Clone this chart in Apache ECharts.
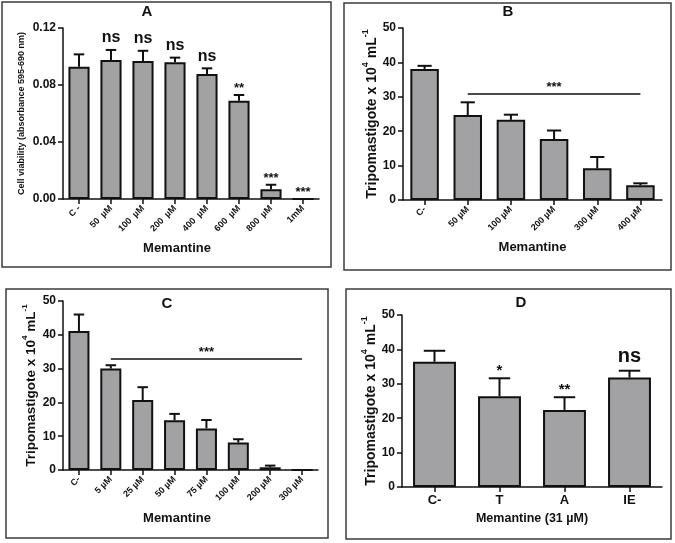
<!DOCTYPE html>
<html>
<head>
<meta charset="utf-8">
<script src="https://cdn.jsdelivr.net/npm/echarts@6/dist/echarts.min.js"></script>
<style>html,body{margin:0;padding:0;background:#fff;}#c{width:675px;height:543px;}</style>
</head>
<body>
<div id="c"></div>
<script>
// ---- Data ----
const catA = ['C -', '50  µM', '100  µM', '200  µM', '400  µM', '600  µM', '800  µM', '1mM'];
const valA = [0.0928, 0.0975, 0.0968, 0.0959, 0.0877, 0.069, 0.0068, 0];
const errA = [0.1015, 0.1046, 0.104, 0.0992, 0.0917, 0.073, 0.010, 0];
const sigA = ['', 'ns', 'ns', 'ns', 'ns', '**', '***', '***'];
const ticksA = [0, 0.04, 0.08, 0.12];

const catB = ['C-', '50 µM', '100 µM', '200 µM', '300 µM', '400 µM'];
const valB = [38.1, 24.7, 23.3, 17.7, 9.2, 4.3];
const errB = [39.0, 28.4, 24.8, 20.2, 12.5, 4.85];
const sigLineB = { from: '50 µM', to: '400 µM', y: 30.9, text: '***' };

const catC = ['C-', '5 µM', '25 µM', '50 µM', '75 µM', '100 µM', '200 µM', '300 µM'];
const valC = [41.1, 30.0, 20.7, 14.7, 12.3, 8.1, 0.8, 0];
const errC = [46.0, 31.0, 24.5, 16.6, 14.8, 9.1, 1.3, 0];
const sigLineC = { from: '5 µM', to: '300 µM', y: 33.0, text: '***' };

const catD = ['C-', 'T', 'A', 'IE'];
const valD = [36.4, 26.4, 22.4, 31.8];
const errD = [39.6, 31.6, 26.1, 33.8];
const sigD = ['', '*', '**', 'ns'];

const ticksTrip = [0, 10, 20, 30, 40, 50];

// ---- Styles ----
const FF = '"Liberation Sans", Arial, sans-serif';
const BAR_FILL = '#a2a2a5';
const INK = '#111';

const chart = echarts.init(document.getElementById('c'), null, { renderer: 'canvas' });

function errSeries(idx, vals, errs, sigs, sigSizes) {
  return {
    type: 'custom',
    xAxisIndex: idx, yAxisIndex: idx,
    z: 5,
    data: vals.map((v, i) => [i, v, errs[i]]),
    renderItem: function (params, api) {
      const i = params.dataIndex;
      const p0 = api.coord([api.value(0), api.value(1)]);
      const p1 = api.coord([api.value(0), api.value(2)]);
      const bw = api.size([1, 0])[0] * 0.66;
      const cap = bw * 0.25;
      const children = [];
      if (api.value(2) > api.value(1)) {
        children.push({ type: 'line', shape: { x1: p0[0], y1: p0[1], x2: p1[0], y2: p1[1] }, style: { stroke: INK, lineWidth: 2 } });
        children.push({ type: 'line', shape: { x1: p1[0] - cap, y1: p1[1], x2: p1[0] + cap, y2: p1[1] }, style: { stroke: INK, lineWidth: 2 } });
      }
      const s = sigs ? sigs[i] : '';
      if (s) {
        const fs = sigSizes[s] || 12;
        const off = s.indexOf('*') >= 0 ? -fs * 0.15 : 2;
        children.push({ type: 'text', x: p1[0], y: p1[1] - 2 - off,
          style: { text: s, fill: INK, font: 'bold ' + fs + 'px ' + FF, textAlign: 'center', textVerticalAlign: 'bottom' } });
      }
      return { type: 'group', children: children };
    }
  };
}

function barSeries(idx, vals, markLineCfg) {
  const s = {
    type: 'bar', xAxisIndex: idx, yAxisIndex: idx,
    data: vals, barWidth: '66%',
    itemStyle: { color: BAR_FILL, borderColor: INK, borderWidth: 2 },
    silent: true, animation: false
  };
  if (markLineCfg) {
    s.markLine = {
      silent: true, symbol: ['none', 'none'], animation: false,
      lineStyle: { color: INK, width: 1.5, type: 'solid' },
      label: { show: true, position: 'middle', formatter: markLineCfg.text, color: INK, fontFamily: FF, fontWeight: 'bold', fontSize: 13, distance: 0 },
      data: [[{ coord: [markLineCfg.from, markLineCfg.y] }, { coord: [markLineCfg.to, markLineCfg.y] }]]
    };
  }
  return s;
}

function xAx(idx, cats, name, opts) {
  opts = opts || {};
  return {
    type: 'category', gridIndex: idx, data: cats,
    name: name, nameLocation: 'middle', nameGap: opts.nameGap || 42,
    nameTextStyle: { fontFamily: FF, fontWeight: 'bold', fontSize: opts.nameSize || 13, color: INK, padding: opts.namePad || 0 },
    axisLine: { lineStyle: { color: INK, width: 1.5 } },
    axisTick: { show: true, alignWithLabel: true, length: 5, lineStyle: { color: INK, width: 1.5 } },
    axisLabel: { rotate: opts.rotate || 0, margin: opts.margin || 6, fontFamily: FF, fontWeight: 'bold', fontSize: opts.labelSize || 8, color: INK, interval: 0 },
    splitLine: { show: false }
  };
}

function yAx(idx, max, interval, name, opts) {
  opts = opts || {};
  return {
    type: 'value', gridIndex: idx, min: 0, max: max, interval: interval,
    name: name, nameLocation: 'middle', nameGap: opts.nameGap || 30, nameRotate: 90,
    nameTextStyle: opts.nameStyle,
    axisLine: { show: true, lineStyle: { color: INK, width: 1.5 } },
    axisTick: { show: true, length: 5, lineStyle: { color: INK, width: 1.5 } },
    axisLabel: { margin: 7, fontFamily: FF, fontWeight: 'bold', fontSize: 12, color: INK, formatter: opts.fmt },
    splitLine: { show: false }
  };
}

const tripName = '{n|Tripomastigote x 10}{s|4}{n| mL}{s|-1}';
function tripStyle(fs) {
  return {
    fontFamily: FF, fontWeight: 'bold', fontSize: fs, color: INK,
    rich: {
      n: { fontFamily: FF, fontWeight: 'bold', fontSize: fs, color: INK, lineHeight: fs + 4, verticalAlign: 'bottom' },
      s: { fontFamily: FF, fontWeight: 'bold', fontSize: Math.round(fs * 0.62), color: INK, lineHeight: fs + 4, verticalAlign: 'top' }
    }
  };
}

function box(x, y, w, h) {
  return { type: 'rect', shape: { x: x, y: y, width: w, height: h }, style: { fill: 'none', stroke: '#3c3c3c', lineWidth: 1.5 }, silent: true, z: 0 };
}
function ttl(t, x, y) {
  return { type: 'text', x: x, y: y, style: { text: t, fill: INK, font: 'bold 15px ' + FF, textAlign: 'center', textVerticalAlign: 'middle' }, z: 10 };
}

const option = {
  animation: false,
  backgroundColor: '#fff',
  grid: [
    { left: 63, top: 28, width: 256, height: 171 },
    { left: 403, top: 28, width: 259, height: 172 },
    { left: 63, top: 301, width: 255, height: 169 },
    { left: 402, top: 315, width: 260, height: 172 }
  ],
  xAxis: [
    xAx(0, catA, 'Memantine', { rotate: 45, labelSize: 9, margin: 8, namePad: [0, 28, 0, 0], nameGap: 43 }),
    xAx(1, catB, 'Memantine', { rotate: 45, labelSize: 9, margin: 8, nameGap: 41 }),
    xAx(2, catC, 'Memantine', { rotate: 45, labelSize: 9, margin: 8, namePad: [0, 27, 0, 0], nameGap: 42 }),
    xAx(3, catD, 'Memantine (31 µM)', { labelSize: 13, margin: 7, nameSize: 12.5, nameGap: 25 })
  ],
  yAxis: [
    yAx(0, 0.12, 0.04, 'Cell viability (absorbance 595-690 nm)', {
      nameGap: 37, fmt: v => v.toFixed(2),
      nameStyle: { fontFamily: FF, fontWeight: 'bold', fontSize: 9, color: INK }
    }),
    yAx(1, 50, 10, tripName, { nameGap: 24, nameStyle: tripStyle(14) }),
    yAx(2, 50, 10, tripName, { nameGap: 25, nameStyle: tripStyle(13.5) }),
    yAx(3, 50, 10, tripName, { nameGap: 23, nameStyle: tripStyle(14) })
  ],
  series: [
    barSeries(0, valA),
    errSeries(0, valA, errA, sigA, { 'ns': 16, '**': 13, '***': 13 }),
    barSeries(1, valB, sigLineB),
    errSeries(1, valB, errB, null, {}),
    barSeries(2, valC, sigLineC),
    errSeries(2, valC, errC, null, {}),
    barSeries(3, valD),
    errSeries(3, valD, errD, sigD, { 'ns': 20, '**': 15, '*': 15 })
  ],
  graphic: [
    box(2, 2, 329, 265),
    box(344, 3, 327, 267),
    box(6, 289, 322, 249),
    box(346, 289, 325, 250),
    ttl('A', 147, 12),
    ttl('B', 508, 12),
    ttl('C', 167, 304),
    ttl('D', 521, 303)
  ]
};
chart.setOption(option);
</script>
</body>
</html>
